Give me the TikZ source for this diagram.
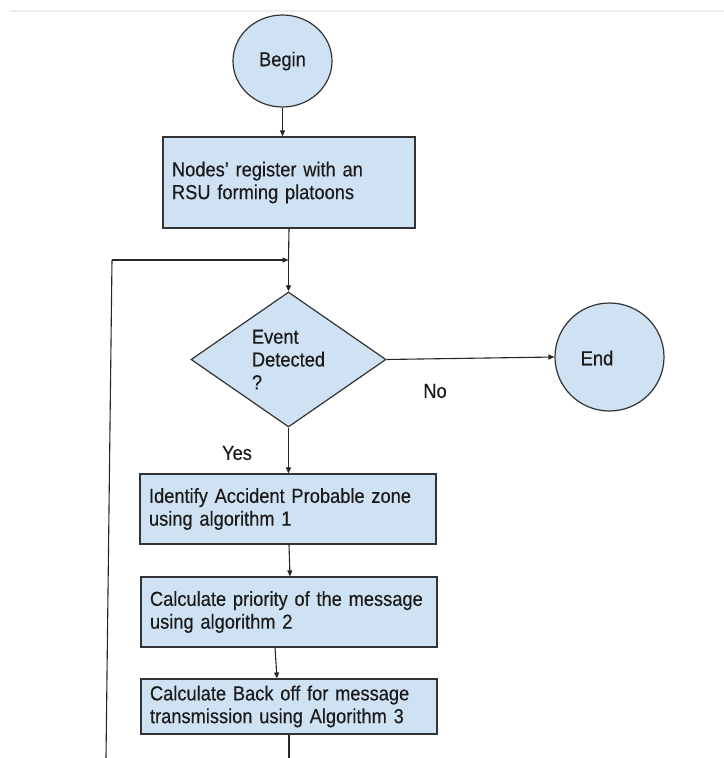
\documentclass[tikz,border=0pt]{standalone}
\usepackage{fontspec}
\setmainfont[FakeStretch=0.9,FakeBold=0.3]{Liberation Sans}
\usetikzlibrary{arrows.meta,shapes.geometric,calc}
\definecolor{boxfill}{HTML}{CFE2F3}
\definecolor{edge}{HTML}{333333}
\definecolor{txt}{HTML}{1A1A1A}
\tikzset{
  base/.style={draw=edge, line width=1.2bp, fill=boxfill, text=txt,
    font=\fontsize{20.3bp}{22.8bp}\selectfont},
  procbox/.style={base, rectangle, inner xsep=9bp, inner ysep=0bp, align=left},
  termin/.style={base, ellipse, inner sep=0bp},
  decision/.style={base, diamond, inner sep=0bp, align=left},
  arr/.style={draw=black!85, line width=1.1bp, -{Triangle[length=6bp,width=5bp]}},
  ln/.style={draw=black!85, line width=1.1bp},
  lab/.style={text=txt, font=\fontsize{20.3bp}{22.8bp}\selectfont, inner sep=0bp}
}
\begin{document}
\begin{tikzpicture}[x=1bp,y=-1bp]
\useasboundingbox (0,0) rectangle (724,758);
\fill[white] (0,0) rectangle (724,758);
\draw[black!7, line width=2.5bp] (10,11) -- (724,11);

\node[termin, minimum width=99bp, minimum height=92bp] (begin) at (282.5,61) {Begin};
\node[procbox, minimum width=252bp, minimum height=91bp, text width=234bp] (box1) at (289,182.5)
  {\mbox{Nodes' register with an}\\\mbox{RSU forming platoons}};
\node[decision, minimum width=195bp, minimum height=135bp, aspect=1.44] (dec) at (288.5,359.5)
  {Event\\Detected\\?};
\node[termin, minimum width=109bp, minimum height=108bp] (endc) at (609.5,357) {};
\node[lab] (endtxt) at (597,358) {End};
\node[procbox, minimum width=296bp, minimum height=70bp, text width=278bp] (box2) at (288,509)
  {\mbox{Identify Accident Probable zone}\\\mbox{using algorithm 1}};
\node[procbox, minimum width=296bp, minimum height=70bp, text width=278bp] (box3) at (289,612)
  {\mbox{Calculate priority of the message}\\\mbox{using algorithm 2}};
\node[procbox, minimum width=296bp, minimum height=55bp, text width=278bp] (box4) at (289,706.5)
  {\mbox{Calculate Back off for message}\\\mbox{transmission using Algorithm 3}};

\node[lab] (no) at (435,391) {No};
\node[lab] (yes) at (237,453) {Yes};

\coordinate (j) at (288.5,260);
\coordinate (lt) at (112,260);
\coordinate (lb) at (106,758);
\coordinate (bot) at (289,758);

\draw[arr] (begin.south) -- (begin.south |- box1.north);
\draw[ln] (box1.south) -- (j);
\draw[arr] (j) -- (dec.north);
\draw[ln] (lb) -- (lt);
\draw[arr] (lt) -- (j);
\draw[arr] (dec.east) -- (endc.west);
\draw[arr] (dec.south) -- (dec.south |- box2.north);
\draw[arr] ($(box2.south)+(1,0)$) -- ($(box3.north)+(1,0)$);
\draw[arr] ($(box3.south)+(-14,0)$) -- ($(box4.north)+(-12,0)$);
\draw[ln] (box4.south) -- (bot);
\end{tikzpicture}
\end{document}
